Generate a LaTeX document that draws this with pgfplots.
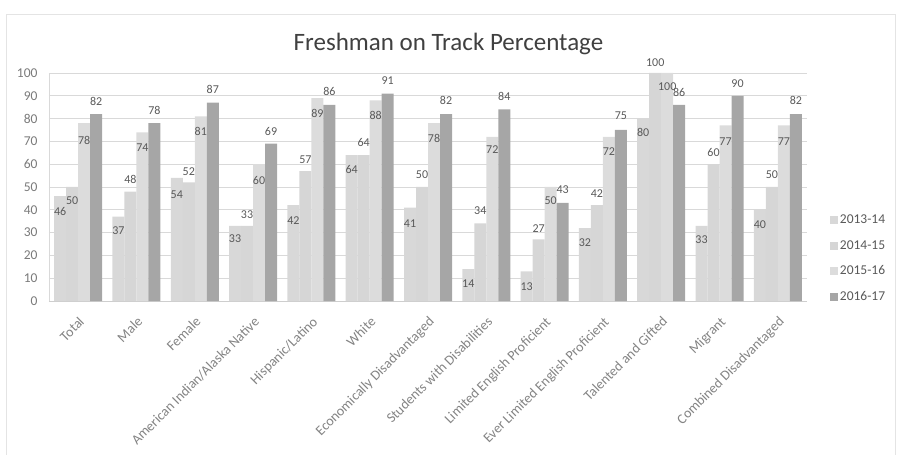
\documentclass[border=0pt]{standalone}
\usepackage{fontspec}
\setmainfont{Carlito}
\usepackage{pgfplots}
\usepackage{pgfplotstable}
\pgfplotsset{compat=1.18}

\definecolor{sA}{HTML}{D8D8D8}
\definecolor{sB}{HTML}{D6D6D6}
\definecolor{sC}{HTML}{DCDCDC}
\definecolor{sD}{HTML}{A6A6A6}
\definecolor{txt}{HTML}{595959}
\definecolor{tit}{HTML}{404040}
\definecolor{gridc}{HTML}{D9D9D9}

% x = category index, y = percent, dy = label offset from bar top (pt)
\pgfplotstableread{
x y dy
0 46 -15
1 37 -14
2 54 -17
3 33 -13
4 42 -15
5 64 -14
6 41 -16
7 14 -15
8 13 -15
9 32 -15
10 80 -14
11 33 -14
12 40 -15
}\yrA
\pgfplotstableread{
x y dy
0 50 -14
1 48 12
2 52 11
3 33 11
4 57 11
5 64 13
6 50 12
7 34 13
8 27 11
9 42 12
10 100 10
11 60 12
12 50 12
}\yrB
\pgfplotstableread{
x y dy
0 78 -17
1 74 -15
2 81 -15
3 60 -16
4 89 -15
5 88 -15
6 78 -15
7 72 -13
8 50 -14
9 72 -15
10 100 -14
11 77 -16
12 77 -16
}\yrC
\pgfplotstableread{
x y dy
0 82 13
1 78 13
2 87 13
3 69 12
4 86 13
5 91 13
6 82 14
7 84 13
8 43 13
9 75 14
10 86 12
11 90 12
12 82 14
}\yrD

\begin{document}
\begin{tikzpicture}
\useasboundingbox (-49pt,-154pt) rectangle (848pt,301pt);
\draw[gridc!70, line width=1pt] (-42.5pt,-170pt) -- (-42.5pt,286pt) -- (846pt,286pt) -- (846pt,-170pt);
\begin{axis}[
  scale only axis,
  width=758pt, height=228pt,
  ybar=0pt, bar width=12pt,
  xmin=-0.5, xmax=12.5,
  ymin=0, ymax=100,
  ytick={0,10,...,100},
  xtick={0,...,12},
  xticklabels={Total,Male,Female,American Indian/Alaska Native,Hispanic/Latino,White,Economically Disadvantaged,Students with Disabilities,Limited English Proficient,Ever Limited English Proficient,Talented and Gifted,Migrant,Combined Disadvantaged},
  major tick length=0pt,
  axis x line*=bottom, axis y line*=left,
  x axis line style={draw=gridc!80!black!60},
  y axis line style={draw=gridc},
  ymajorgrids, grid style={gridc, line width=0.8pt},
  /pgf/number format/assume math mode=true,
  yticklabel style={font=\fontsize{13.5}{15}\selectfont, text=txt!80, xshift=-8pt},
  xticklabel style={font=\fontsize{14}{16}\selectfont, text=txt!75, rotate=45, anchor=north east, yshift=-7pt, xshift=-7pt},
  title={Freshman on Track Percentage},
  title style={font=\fontsize{25}{30}\selectfont, text=tit, at={(axis description cs:0.527,1)}, anchor=base, yshift=16pt},
  clip=false,
  visualization depends on={\thisrow{dy} \as \labdy},
  nodes near coords,
  nodes near coords style={font=\fontsize{12}{14}\selectfont, text=txt, anchor=center, yshift=\labdy pt, /pgf/number format/.cd, fixed, precision=0},
  legend style={at={(axis description cs:1.030,0.186)}, anchor=west, draw=none, fill=none, font=\fontsize{13.5}{15}\selectfont, text=txt, row sep=11pt, inner sep=0pt},
  legend image code/.code={\fill[#1] (0pt,-4pt) rectangle (8pt,4pt);},
]
\addplot[fill=sA, draw=none] table[x=x, y=y] {\yrA};
\addplot[fill=sB, draw=none] table[x=x, y=y] {\yrB};
\addplot[fill=sC, draw=none] table[x=x, y=y] {\yrC};
\addplot[fill=sD, draw=none] table[x=x, y=y] {\yrD};
\legend{2013-14,2014-15,2015-16,2016-17}
\end{axis}
\end{tikzpicture}
\end{document}
